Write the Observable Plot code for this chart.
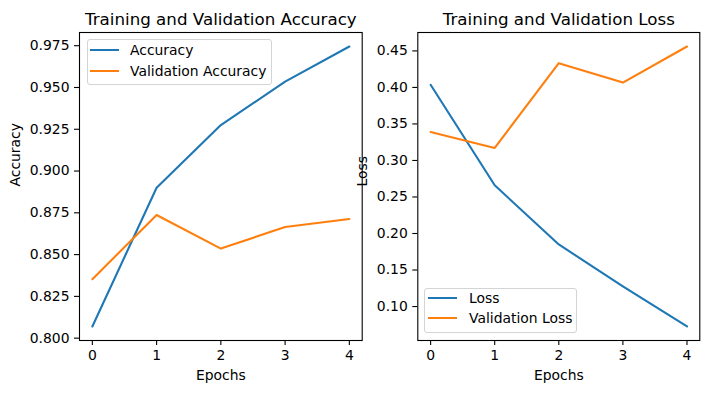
<!DOCTYPE html>
<html>
<head>
<meta charset="utf-8">
<script src="https://cdn.jsdelivr.net/npm/d3@7"></script>
<script src="https://cdn.jsdelivr.net/npm/@observablehq/plot@0.6"></script>
<style>
  body { margin: 0; background: #fff; }
  #wrap { position: relative; width: 708px; height: 393px; font-family: "DejaVu Sans", sans-serif; overflow: hidden; }
  .p { position: absolute; top: 0; }
  .legend { position: absolute; box-sizing: border-box; border: 1px solid #d4d4d4; border-radius: 3px; background: rgba(255,255,255,0.8); font-size: 13.9px; color: #000; }
  .row { position: absolute; left: 0; height: 16px; line-height: 16px; white-space: nowrap; }
  .sw { position: absolute; top: 7px; height: 2.1px; width: 29px; }
  .lab { position: absolute; top: 0; }
</style>
</head>
<body>
<div id="wrap"></div>
<script>
// ---- data ----
const epochs = [0, 1, 2, 3, 4];
const accuracy = [0.807, 0.890, 0.9275, 0.9535, 0.9745];
const valAccuracy = [0.8353, 0.8737, 0.8536, 0.8665, 0.8713];
const loss = [0.4036, 0.266, 0.185, 0.1276, 0.0727];
const valLoss = [0.339, 0.3172, 0.4332, 0.4066, 0.456];
const accTicks = [0.800, 0.825, 0.850, 0.875, 0.900, 0.925, 0.950, 0.975];
const lossTicks = [0.10, 0.15, 0.20, 0.25, 0.30, 0.35, 0.40, 0.45];
const titles = ["Training and Validation Accuracy", "Training and Validation Loss"];
const yLabels = ["Accuracy", "Loss"];
const xLabel = "Epochs";
const accSeries = ["Accuracy", "Validation Accuracy"];
const lossSeries = ["Loss", "Validation Loss"];

const BLUE = "#1f77b4", ORANGE = "#ff7f0e";
const FS = 13.9;

const accRows = epochs.map((e, i) => ({epoch: e, train: accuracy[i], val: valAccuracy[i]}));
const lossRows = epochs.map((e, i) => ({epoch: e, train: loss[i], val: valLoss[i]}));

function panel({rows, yDomain, yTicks, yFmt, title, yLabel, width, marginLeft, marginRight, yLabelDx}) {
  return Plot.plot({
    width, height: 393,
    marginTop: 32, marginBottom: 53, marginLeft, marginRight,
    style: {fontFamily: "DejaVu Sans, sans-serif", fontSize: FS + "px", background: "transparent", color: "black", overflow: "visible"},
    x: {domain: [-0.2, 4.2]},
    y: {domain: yDomain},
    marks: [
      Plot.line(rows, {x: "epoch", y: "train", stroke: BLUE, strokeWidth: 2.1}),
      Plot.line(rows, {x: "epoch", y: "val", stroke: ORANGE, strokeWidth: 2.1}),
      Plot.frame({stroke: "black", strokeWidth: 1.1}),
      Plot.axisX({ticks: epochs, tickFormat: d3.format("d"), tickSize: 5, tickPadding: 5, label: null, fontSize: FS, strokeWidth: 1.1}),
      Plot.axisY({ticks: yTicks, tickFormat: d3.format(yFmt), tickSize: 5, tickPadding: 5, label: null, fontSize: FS, strokeWidth: 1.1}),
      Plot.text([title], {text: d => d, frameAnchor: "top", dy: -8, lineAnchor: "bottom", fontSize: 16.7}),
      Plot.text([yLabel], {text: d => d, frameAnchor: "left", rotate: -90, dx: yLabelDx, fontSize: FS}),
      Plot.text([xLabel], {text: d => d, frameAnchor: "bottom", dy: 35.5, lineAnchor: "middle", fontSize: FS})
    ]
  });
}

const wrap = document.getElementById("wrap");

const left = panel({rows: accRows, yDomain: [0.7986, 0.9829], yTicks: accTicks, yFmt: ".3f",
  title: titles[0], yLabel: yLabels[0], width: 380, marginLeft: 79, marginRight: 18.3, yLabelDx: -63.5});
left.classList.add("p"); left.style.left = "0px";
wrap.appendChild(left);

const right = panel({rows: lossRows, yDomain: [0.0535, 0.4752], yTicks: lossTicks, yFmt: ".2f",
  title: titles[1], yLabel: yLabels[1], width: 368, marginLeft: 77.3, marginRight: 8.7, yLabelDx: -55.5});
right.classList.add("p"); right.style.left = "340px";
wrap.appendChild(right);

function legend(names, box) {
  const lg = document.createElement("div");
  lg.className = "legend";
  Object.assign(lg.style, {left: box.left + "px", top: box.top + "px", width: box.width + "px", height: box.height + "px"});
  [BLUE, ORANGE].forEach((c, i) => {
    const r = document.createElement("div");
    r.className = "row";
    r.style.top = (box.rows[i] - 8) + "px";
    const sw = document.createElement("div");
    sw.className = "sw"; sw.style.background = c; sw.style.left = box.sw + "px";
    const t = document.createElement("div");
    t.className = "lab"; t.style.left = box.tx + "px"; t.textContent = names[i];
    r.appendChild(sw); r.appendChild(t);
    lg.appendChild(r);
  });
  wrap.appendChild(lg);
}
legend(accSeries, {left: 86.7, top: 39.3, width: 185.6, height: 45.7, rows: [10, 30.4], sw: 2.3, tx: 42.3});
legend(lossSeries, {left: 424.3, top: 287.7, width: 153, height: 45.6, rows: [9, 29.6], sw: 3, tx: 43.7});
</script>
</body>
</html>
